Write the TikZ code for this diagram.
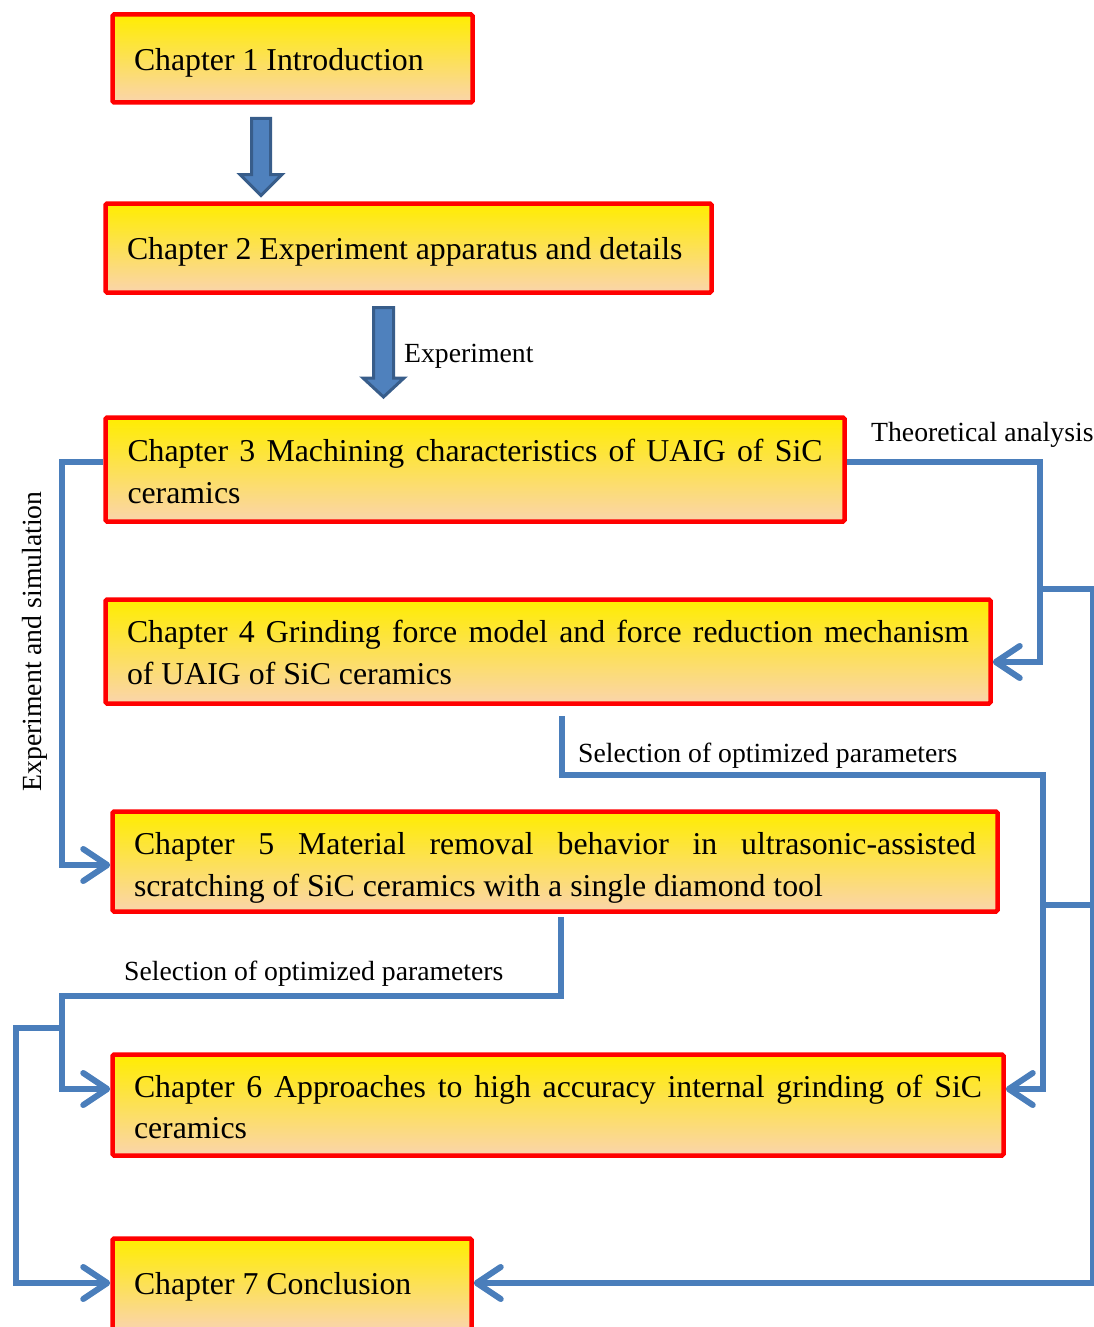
\documentclass[tikz,border=0pt]{standalone}
\usepackage{fontspec}
\setmainfont{Liberation Serif}
\usetikzlibrary{arrows.meta}
\definecolor{cline}{RGB}{74,126,187}
\definecolor{afill}{RGB}{79,129,189}
\definecolor{aedge}{RGB}{56,93,138}
\definecolor{ytop}{RGB}{255,237,0}
\definecolor{ymid}{RGB}{252,224,95}
\definecolor{ybot}{RGB}{250,212,172}
\begin{document}
\begin{tikzpicture}[x=1pt,y=-1pt,
  box/.style={draw=red, line width=4.5pt, rounded corners=1.5pt, top color=ytop, middle color=ymid, bottom color=ybot, inner sep=0pt},
  txt/.style={inner sep=0pt, align=justify, font={\fontsize{31.8}{41.5}\selectfont\tolerance=10000\hbadness=10000\hyphenpenalty=10000}},
  lbl/.style={inner sep=0pt, font={\fontsize{27.7}{33}\selectfont}},
  conn/.style={draw=cline, line width=6pt},
  tip/.style={-{Straight Barb[length=24pt,width=32pt,round]}},
  blockarrow/.style={fill=afill, draw=aedge, line width=3pt, line join=miter}]
\useasboundingbox (0,0) rectangle (1094,1327);
\clip (0,0) rectangle (1094,1327);

% boxes
\node[box, minimum width=360pt, minimum height=88pt] (c1) at (292.5,58.5) {};
\node[txt, text width=317pt] (t1) at ([yshift=-4.5pt]c1.center) {Chapter 1 Introduction};
\node[box, minimum width=606pt, minimum height=89pt] (c2) at (408.5,248) {};
\node[txt, text width=563pt] (t2) at ([yshift=-3.5pt]c2.center) {Chapter 2 Experiment apparatus and details};
\node[box, minimum width=739pt, minimum height=104pt] (c3) at (475,469.5) {};
\node[txt, text width=695pt] (t3) at ([yshift=-2pt]c3.center) {Chapter 3 Machining characteristics of UAIG of SiC\linebreak ceramics};
\node[box, minimum width=885pt, minimum height=104pt] (c4) at (548,651.5) {};
\node[txt, text width=842pt] (t4) at ([yshift=-1pt]c4.center) {Chapter 4 Grinding force model and force reduction mechanism\linebreak of UAIG of SiC ceramics};
\node[box, minimum width=885pt, minimum height=100pt] (c5) at (555,861.5) {};
\node[txt, text width=842pt] (t5) at ([yshift=-6.5pt]c5.center) {Chapter 5 Material removal behavior in ultrasonic-assisted\linebreak scratching of SiC ceramics with a single diamond tool};
\node[box, minimum width=891pt, minimum height=101pt] (c6) at (558,1105) {};
\node[txt, text width=848pt] (t6) at ([yshift=-2pt]c6.center) {Chapter 6 Approaches to high accuracy internal grinding of SiC\linebreak ceramics};
\node[box, minimum width=359pt, minimum height=91pt] (c7) at (292,1284) {};
\node[txt, text width=316pt] (t7) at ([yshift=-2.5pt]c7.center) {Chapter 7 Conclusion};

% block arrows
\draw[blockarrow] (251.5,118.5) -- (270.5,118.5) -- (270.5,174.5) -- (282,174.5) -- (261,195.5) -- (240,174.5) -- (251.5,174.5) -- cycle;
\draw[blockarrow] (373.5,307.5) -- (393.5,307.5) -- (393.5,378) -- (404,378) -- (383.5,397) -- (363,378) -- (373.5,378) -- cycle;

% corner coordinates
\coordinate (k1) at (1040,462);
\coordinate (k2) at (1040,662);
\coordinate (k3) at (1040,589);
\coordinate (r1) at (1093,589);
\coordinate (r2) at (1093,905);
\coordinate (r3) at (1093,1283);
\coordinate (m1) at (562,716);
\coordinate (m2) at (562,775);
\coordinate (m3) at (1043,775);
\coordinate (m4) at (1043,1089);
\coordinate (m5) at (1043,905);
\coordinate (n1) at (561,917);
\coordinate (n2) at (561,996);
\coordinate (n3) at (62,996);
\coordinate (n4) at (62,1089);
\coordinate (n5) at (62,1028);
\coordinate (n6) at (16,1028);
\coordinate (n7) at (16,1283);
\coordinate (l1) at (62,462);
\coordinate (l2) at (62,865);

% connectors
\draw[conn, tip] (c3.east |- k1) -- (k1) -- (k2) -- (c4.east |- k2);
\draw[conn, tip] (k3) -- (r1) -- (r3) -- (c7.east |- r3);
\draw[conn] (m5) -- (r2);
\draw[conn, tip] (m1) -- (m2) -- (m3) -- (m4) -- (c6.east |- m4);
\draw[conn, tip] (n1) -- (n2) -- (n3) -- (n4) -- (c6.west |- n4);
\draw[conn, tip] (n5) -- (n6) -- (n7) -- (c7.west |- n7);
\draw[conn, tip] (c3.west |- l1) -- (l1) -- (l2) -- (c5.west |- l2);

% labels
\node[lbl, anchor=base west] (lexp) at (404,362) {Experiment};
\node[lbl, anchor=base west] (lth) at (871,441) {Theoretical analysis};
\node[lbl, anchor=base west] (lsel1) at (578,762) {Selection of optimized parameters};
\node[lbl, anchor=base west] (lsel2) at (124,980) {Selection of optimized parameters};
\node[lbl, rotate=90, anchor=base] (lexs) at (41,641.5) {Experiment and simulation};
\end{tikzpicture}
\end{document}
